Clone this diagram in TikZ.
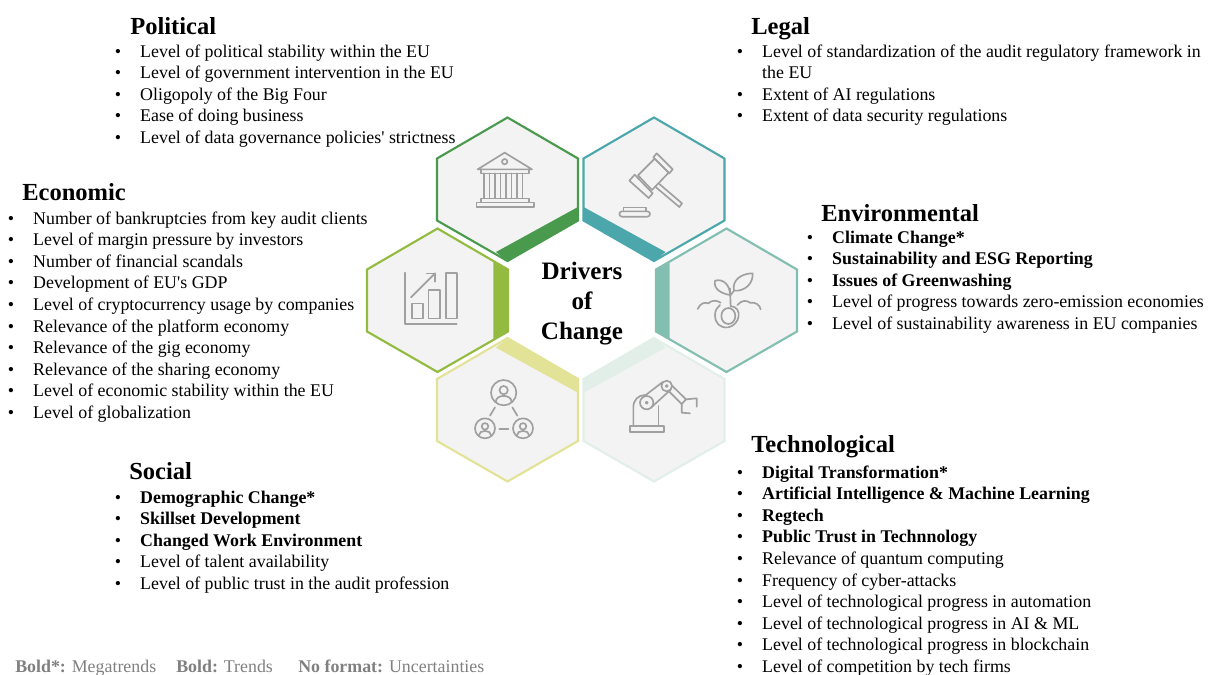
\documentclass[tikz,border=0pt]{standalone}
\usepackage{fontspec}
\setmainfont[Ligatures=TeXOff]{Liberation Serif}
\definecolor{polgreen}{HTML}{4A9A4E}
\definecolor{legteal}{HTML}{4BA7AB}
\definecolor{ecolime}{HTML}{93BB40}
\definecolor{envmint}{HTML}{82BFB0}
\definecolor{socsand}{HTML}{E2E397}
\definecolor{tecpale}{HTML}{E2EFE8}
\definecolor{cellgrey}{HTML}{F3F3F3}
\definecolor{icongrey}{HTML}{A0A0A0}
\definecolor{notegrey}{HTML}{808080}
\newcommand{\li}[1]{\rule{0pt}{12pt}\makebox[19.1pt][l]{•}#1}
\newcommand{\lib}[1]{\li{\textbf{#1}}}
\newcommand{\licont}[1]{\rule{0pt}{12pt}\hspace*{19.1pt}#1}
\begin{document}
\begin{tikzpicture}
    [
    x=.75pt,y=-.75pt,
    heading/.style={anchor=base west,inner sep=0pt,font=\fontsize{18.4}{22}\selectfont\bfseries},
    itemlist/.style={anchor=north west,inner sep=0pt,align=left,font=\fontsize{13.4}{16.17}\selectfont},
    note/.style={anchor=base west,inner sep=0pt,text=notegrey,font=\fontsize{13.4}{16.1}\selectfont},
    cell/.style={draw=#1,fill=cellgrey,line width=1.6pt,line join=miter},
    band/.style={fill=#1,draw=none},
    icon/.style={draw=icongrey,line width=1.25pt,line join=round,line cap=round},
    cropa/.style={shift={(360,110)},x=.25pt,y=-.25pt},
    cropb/.style={shift={(360,300)},x=.25pt,y=-.25pt},
    ]
    \useasboundingbox (0,0) rectangle (1212,674);
    % hexagons
    \foreach \cx/\ct/\col in {507.5/117.5/polgreen,654/117.5/legteal,437.5/228.5/ecolime,726.5/228.5/envmint,507.5/338/socsand,654/338/tecpale}
      \draw [cell=\col] (\cx,\ct) -- (\cx+70.5,\ct+41) -- (\cx+70.5,\ct+103) -- (\cx,\ct+143.5) -- (\cx-70.5,\ct+103) -- (\cx-70.5,\ct+41) -- cycle;
    \fill [band=polgreen] (578.5,206.7) -- (578.5,221) -- (507.5,261.5) -- (496,252) -- cycle;
    \fill [band=legteal] (583,206.7) -- (583,221) -- (654,261.5) -- (665.5,252) -- cycle;
    \fill [band=ecolime] (493.3,261) -- (508.5,269) -- (508.5,331.5) -- (493.3,340) -- cycle;
    \fill [band=envmint] (655.5,269) -- (669.5,261) -- (669.5,340) -- (655.5,331.5) -- cycle;
    \fill [band=socsand] (496,347.7) -- (507.5,337.7) -- (578.5,379) -- (578.5,393) -- cycle;
    \fill [band=tecpale] (583,379) -- (654,337.7) -- (665.5,347.7) -- (583,393) -- cycle;
    % temple
    \begin{scope}[cropa]
      \draw [icon] (353,178) -- (434,128) -- (516,178) -- cycle;
      \draw [icon] (434,155) circle (8);
      \draw [icon] (362,178) rectangle (507,190);
      \foreach \colx in {372,405,438,471}
        \draw [icon] (\colx,190) -- (\colx,265) (\colx+16,190) -- (\colx+16,265);
      \draw [icon] (362,265) rectangle (507,277);
      \draw [icon] (349,277) rectangle (521,290);
    \end{scope}
    % gavel
    \begin{scope}[cropa]
      \draw [icon] (884,146) -- (926,188) -- (876,240) -- (834,196) -- cycle;
      \draw [icon] (890,130) -- (938,178) -- (928,190) -- (880,142) -- cycle;
      \draw [icon] (824,194) -- (878,250) -- (866,264) -- (808,212) -- cycle;
      \draw [icon] (898,222) -- (966,280) -- (958,291) -- (888,232);
      \draw [icon] (790,304) -- (790,292) -- (858,292) -- (858,304);
      \draw [icon,rounded corners=2pt] (778,304) rectangle (870,320);
    \end{scope}
    % chart
    \begin{scope}[shift={(390,250)},x=.25pt,y=-.25pt]
      \draw [icon] (45,68) -- (45,222) -- (200,222);
      \draw [icon] (65,160) rectangle (98,205);
      \draw [icon] (115,120) rectangle (150,205);
      \draw [icon] (167,68) rectangle (200,205);
      \draw [icon] (63,142) -- (135,70);
      \draw [icon] (110,70) -- (135,70) -- (135,95);
    \end{scope}
    % plant
    \begin{scope}[shift={(660,250)},x=.25pt,y=-.25pt]
      \draw [icon] (205,198) ellipse (21 and 24);
      \draw [icon] (212,168) .. controls (250,172) and (240,225) .. (205,232) .. controls (180,235) and (165,220) .. (165,195) .. controls (165,180) and (172,172) .. (180,165);
      \draw [icon] (212,170) -- (210,115);
      \draw [icon] (210,135) .. controls (180,130) and (160,115) .. (165,92) .. controls (190,85) and (210,105) .. (210,135);
      \draw [icon] (222,122) .. controls (215,90) and (245,70) .. (278,70) .. controls (280,100) and (255,125) .. (222,122) -- (212,135);
      \draw [icon] (113,177) .. controls (120,160) and (135,155) .. (145,160) .. controls (155,150) and (170,150) .. (182,158);
      \draw [icon] (232,165) .. controls (245,150) and (260,150) .. (270,158) .. controls (285,155) and (300,165) .. (302,178);
    \end{scope}
    % people
    \begin{scope}[cropb]
      \foreach \ux/\uy/\ur in {431/278/38,375/385/30,489/385/30} {
        \draw [icon] (\ux,\uy) circle (\ur);
        \draw [icon] (\ux,{\uy-0.2*\ur}) circle ({0.33*\ur});
        \draw [icon] ({\ux-0.62*\ur},{\uy+0.72*\ur}) .. controls ({\ux-0.62*\ur},{\uy+0.1*\ur}) and ({\ux+0.62*\ur},{\uy+0.1*\ur}) .. ({\ux+0.62*\ur},{\uy+0.72*\ur});
      }
      \draw [icon] (405,322) -- (390,347);
      \draw [icon] (457,322) -- (472,347);
      \draw [icon] (418,386) -- (445,386);
    \end{scope}
    % robot
    \begin{scope}[cropb]
      \draw [icon] (810,378) rectangle (912,395);
      \draw [icon] (820,378) -- (820,322) .. controls (820,300) and (835,285) .. (855,285);
      \draw [icon] (895,378) -- (895,318);
      \draw [icon] (860,308) circle (20);
      \draw [icon] (860,308) circle (3);
      \draw [icon] (920,258) circle (16);
      \draw [icon] (920,258) circle (3);
      \draw [icon] (847,293) -- (908,246);
      \draw [icon] (873,323) -- (932,269);
      \draw [icon] (935,256) -- (978,298) -- (965,312) -- (925,272);
      \draw [icon] (978,298) -- (1010,295) -- (1010,320);
      \draw [icon] (965,312) -- (965,338) -- (990,340);
    \end{scope}
    % centre
    \node (drivers) at (582,303.5) [inner sep=0pt,align=center,font=\fontsize{18.8}{22.2}\selectfont\bfseries] {Drivers\\of\\Change};
    % political
    \node (polhead) at (130,35) [heading] {Political};
    \node (pollist) at (114.5,41) [itemlist] {\li{Level of political stability within the EU}\\
      \li{Level of government intervention in the EU}\\
      \li{Oligopoly of the Big Four}\\
      \li{Ease of doing business}\\
      \li{Level of data governance policies' strictness}};
    % legal
    \node (leghead) at (751,35) [heading] {Legal};
    \node (leglist) at (736.5,41) [itemlist] {\li{Level of standardization of the audit regulatory framework in}\\
      \licont{the EU}\\
      \li{Extent of AI regulations}\\
      \li{Extent of data security regulations}};
    % economic
    \node (ecohead) at (22,200) [heading] {Economic};
    \node (ecolist) at (7.5,208) [itemlist] {\li{Number of bankruptcies from key audit clients}\\
      \li{Level of margin pressure by investors}\\
      \li{Number of financial scandals}\\
      \li{Development of EU's GDP}\\
      \li{Level of cryptocurrency usage by companies}\\
      \li{Relevance of the platform economy}\\
      \li{Relevance of the gig economy}\\
      \li{Relevance of the sharing economy}\\
      \li{Level of economic stability within the EU}\\
      \li{Level of globalization}};
    % environmental
    \node (envhead) at (821,221) [heading] {Environmental};
    \node (envlist) at (806.5,227) [itemlist] {\lib{Climate Change*}\\
      \lib{Sustainability and ESG Reporting}\\
      \lib{Issues of Greenwashing}\\
      \li{Level of progress towards zero-emission economies}\\
      \li{Level of sustainability awareness in EU companies}};
    % social
    \node (sochead) at (129,479) [heading] {Social};
    \node (soclist) at (114.5,487) [itemlist] {\lib{Demographic Change*}\\
      \lib{Skillset Development}\\
      \lib{Changed Work Environment}\\
      \li{Level of talent availability}\\
      \li{Level of public trust in the audit profession}};
    % technological
    \node (techead) at (751,452) [heading] {Technological};
    \node (teclist) at (736.5,462) [itemlist] {\lib{Digital Transformation*}\\
      \lib{Artificial Intelligence \& Machine Learning}\\
      \lib{Regtech}\\
      \lib{Public Trust in Technnology}\\
      \li{Relevance of quantum computing}\\
      \li{Frequency of cyber-attacks}\\
      \li{Level of technological progress in automation}\\
      \li{Level of technological progress in AI \& ML}\\
      \li{Level of technological progress in blockchain}\\
      \li{Level of competition by tech firms}};
    % legend
    \node (notea) at (15,672) [note] {\textbf{Bold*:} Megatrends};
    \node (noteb) at (176,672) [note] {\textbf{Bold:} Trends};
    \node (notec) at (298,672) [note] {\textbf{No format:} Uncertainties};
  \end{tikzpicture}
\end{document}
